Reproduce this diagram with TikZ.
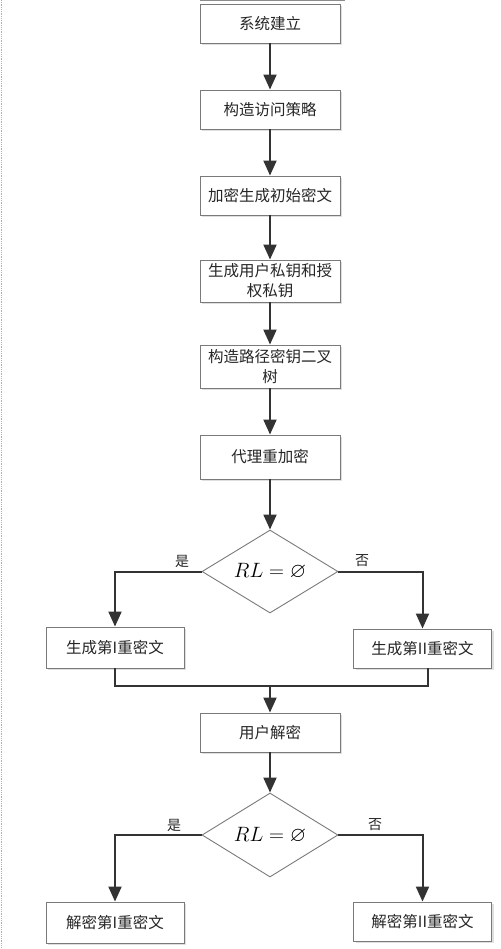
\documentclass[tikz,border=0pt]{standalone}
\usepackage{amssymb}
\usepackage{fontspec}
\setmainfont{Noto Sans CJK SC}
\usetikzlibrary{arrows.meta,shadows,shapes.geometric}
\definecolor{ln}{HTML}{333333}
\definecolor{bx}{HTML}{7A7A7A}
\tikzset{
  stepbox/.style={draw=bx, line width=0.9pt, fill=white, minimum width=140pt, align=center,
    font=\fontsize{15.5}{20}\selectfont, text=black!85, inner sep=0pt,
    drop shadow={shadow xshift=2pt, shadow yshift=-2pt, fill=black!25}},
  sidebox/.style={stepbox, minimum width=138pt},
  decide/.style={draw=bx, line width=0.9pt, diamond, aspect=1.64, minimum width=136pt, minimum height=83pt, inner sep=0pt, fill=white},
  flow/.style={draw=ln, line width=2pt, -{Triangle[length=15pt,width=13pt]}},
  plain/.style={draw=ln, line width=2pt},
  lab/.style={font=\fontsize{14}{16}\selectfont, text=black!85}
}
\begin{document}
\begin{tikzpicture}[x=1pt,y=-1pt]
\useasboundingbox (0,0) rectangle (500,949);
\draw[black!30, densely dotted, line width=0.8pt] (1,0) -- (1,949);
\coordinate (t1) at (200,0.6);
\coordinate (t2) at (345,0.6);
\draw[black!45, line width=1pt] (t1) -- (t2);

\node[stepbox, minimum height=39pt] (n1) at (270,23.5) {系统建立};
\node[stepbox, minimum height=39pt] (n2) at (270,109.5) {构造访问策略};
\node[stepbox, minimum height=39pt] (n3) at (270,195.5) {加密生成初始密文};
\node[stepbox, minimum height=42pt] (n4) at (270,281) {生成用户私钥和授\\权私钥};
\node[stepbox, minimum height=43pt] (n5) at (270,366.5) {构造路径密钥二叉\\树};
\node[stepbox, minimum height=44pt] (n6) at (270,457) {代理重加密};
\node[decide] (d1) at (270,571.5) {\fontsize{21}{21}\selectfont$RL=\varnothing$};
\node[sidebox, minimum height=41pt] (l1) at (115,647.5) {生成第I重密文};
\node[sidebox, minimum height=39pt] (r1) at (422.5,648.5) {生成第II重密文};
\node[stepbox, minimum height=39pt] (n7) at (270,732.5) {用户解密};
\node[decide, minimum height=84pt] (d2) at (270,835) {\fontsize{21}{21}\selectfont$RL=\varnothing$};
\node[sidebox, minimum height=41pt] (l2) at (115,922.5) {解密第I重密文};
\node[sidebox, minimum height=39pt] (r2) at (422.5,921.5) {解密第II重密文};

\draw[flow] (n1) -- (n2);
\draw[flow] (n2) -- (n3);
\draw[flow] (n3) -- (n4);
\draw[flow] (n4) -- (n5);
\draw[flow] (n5) -- (n6);
\draw[flow] (n6) -- (d1);
\draw[flow] (d1.west) -| (l1.north);
\draw[flow] (d1.east) -| (r1.north);
\node[lab] (y1) at (182,561) {是};
\node[lab] (f1) at (362,561) {否};
\coordinate (m1) at (115,686);
\coordinate (m2) at (428,686);
\coordinate (m3) at (270,686);
\draw[plain] (l1.south) -- (m1) -- (m2) -- (m2 |- r1.south);
\draw[flow] (m3) -- (n7);
\draw[flow] (n7) -- (d2);
\draw[flow] (d2.west) -| (l2.north);
\draw[flow] (d2.east) -| (r2.north);
\node[lab] (y2) at (174,825) {是};
\node[lab] (f2) at (375,825) {否};
\end{tikzpicture}
\end{document}
